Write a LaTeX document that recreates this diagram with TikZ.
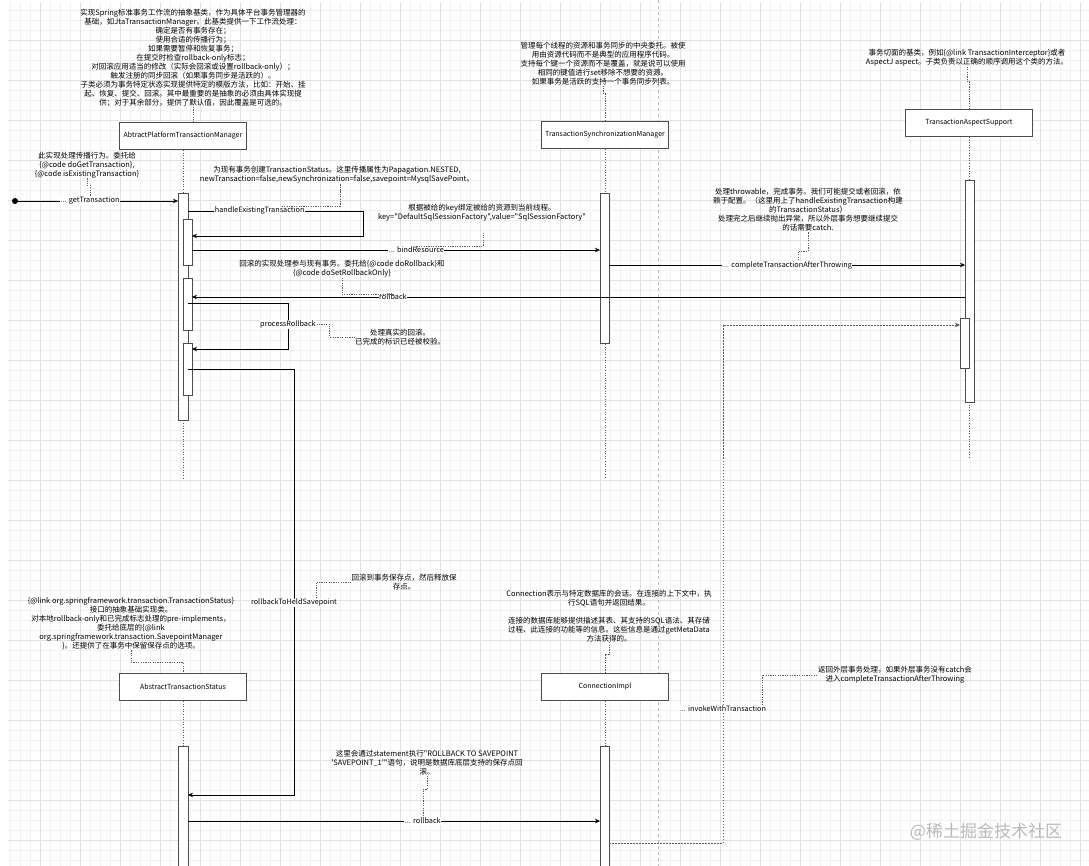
\documentclass[tikz,border=0pt]{standalone}
\usepackage{fontspec}
\setmainfont{Noto Sans CJK SC}[Ligatures=TeXOff]
\usetikzlibrary{arrows.meta,positioning}

\tikzset{
	head/.style={draw=gray!60!black, line width=1pt, fill=white, minimum width=127pt, minimum height=27pt, inner sep=0pt, font=\fontsize{7}{8}\selectfont},
	act/.style={draw=gray!60!black, line width=0.8pt, fill=white, minimum width=9pt, inner sep=0pt, outer sep=0pt, anchor=north west},
	life/.style={gray!70!black, dash pattern=on 1pt off 1.6pt, line width=0.6pt},
	msg/.style={line width=0.6pt, -{Stealth[length=5pt,width=4.5pt]}},
	ret/.style={gray!70!black, line width=0.6pt, dash pattern=on 1.5pt off 1.5pt, -{Stealth[length=5pt,width=4.5pt]}},
	lbl/.style={fill=white, text=black, inner sep=0.6pt, font=\fontsize{7.3}{8.5}\selectfont},
	note/.style={align=center, inner sep=0pt, font=\fontsize{7.5}{9}\selectfont},
	link/.style={gray!70!black, dash pattern=on 1.2pt off 1.2pt, line width=0.6pt},
}

\begin{document}
\begin{tikzpicture}[x=1pt,y=-1pt]
	\useasboundingbox (0,0) rectangle (1089,866);
	% background grid
	\draw[gray!11, line width=0.4pt, step=10pt] (8,2) grid (1089,866);
	\draw[gray!24, line width=0.4pt, step=40pt] (8,2) grid (1089,866);
	\draw[gray!55, dash pattern=on 3pt off 3pt, line width=0.5pt] (658,0) -- (658,866);

	% lifeline heads
	\node[head] (apm) at (183,136) {AbtractPlatformTransactionManager};
	\node[head] (tsm) at (605,135) {TransactionSynchronizationManager};
	\node[head] (tas) at (969,123) {TransactionAspectSupport};
	\node[head] (ats) at (183,687) {AbstractTransactionStatus};
	\node[head] (con) at (605,687) {ConnectionImpl};

	\draw[life] (apm.south) -- ++(0,330);
	\draw[life] (tsm.south) -- ++(0,330);
	\draw[life] (tas.south) -- ++(0,320);
	\draw[life] (ats.south) -- ++(0,170);
	\draw[life] (con.south) -- ++(0,170);

	% activations
	\node[act, minimum width=10pt, minimum height=227pt] (a1) at (178,193) {};
	\node[act, minimum height=46pt] (a1b) at (183,219) {};
	\node[act, minimum height=52pt] (a1c) at (183,278) {};
	\node[act, minimum height=52pt] (a1d) at (183,343) {};
	\node[act, minimum height=150pt] (t1) at (600,193) {};
	\node[act, minimum height=222pt] (s1) at (965,180) {};
	\node[act, minimum height=50pt] (s1b) at (960,318) {};
	\node[act, minimum width=10pt, minimum height=130pt] (b1) at (178,746) {};
	\node[act, minimum height=130pt] (c1) at (600,746) {};

	% notes
	\node[note] (n0) at (193,58) {实现Spring标准事务工作流的抽象基类，作为具体平台事务管理器的\\
		基础，如JtaTransactionManager。此基类提供一下工作流处理：\\
		确定是否有事务存在；\\
		使用合适的传播行为；\\
		如果需要暂停和恢复事务；\\
		在提交时检查rollback-only标志；\\
		对回滚应用适当的修改（实际会回滚或设置rollback-only）；\\
		触发注册的同步回滚（如果事务同步是活跃的）。\\
		子类必须为事务特定状态实现提供特定的模版方法，比如：开始、挂\\
		起、恢复、提交、回滚。其中最重要的是抽象的必须由具体实现提\\
		供；对于其余部分，提供了默认值，因此覆盖是可选的。};
	\node[note] (ntsm) at (603,64) {管理每个线程的资源和事务同步的中央委托。被使\\
		用由资源代码而不是典型的应用程序代码。\\
		支持每个键一个资源而不是覆盖，就是说可以使用\\
		相同的键值进行set移除不想要的资源。\\
		如果事务是活跃的支持一个事务同步列表。};
	\node[note] (ntas) at (967,58) {事务切面的基类，例如\{@link TransactionInterceptor\}或者\\
		AspectJ aspect。子类负责以正确的顺序调用这个类的方法。};
	\node[note] (n1) at (87,165) {此实现处理传播行为。委托给\\
		\{@code doGetTransaction\},\\
		\{@code isExistingTransaction\}};
	\node[note] (n2) at (337,175) {为现有事务创建TransactionStatus。这里传播属性为Papagation.NESTED,\\
		newTransaction=false,newSynchronization=false,savepoint=MysqlSavePoint。};
	\node[note] (n3) at (482,213) {根据被给的key绑定被给的资源到当前线程。\\
		key="DefaultSqlSessionFactory",value="SqlSessionFactory"};
	\node[note] (n4) at (808,210) {处理throwable，完成事务。我们可能提交或者回滚，依\\
		赖于配置。（这里用上了handleExistingTransaction构建\\
		的TransactionStatus）\\
		处理完之后继续抛出异常，所以外层事务想要继续提交\\
		的话需要catch.};
	\node[note] (n5) at (342,269) {回滚的实现处理参与现有事务。委托给\{@code doRollback\}和\\
		\{@code doSetRollbackOnly\}};
	\node[note] (n6) at (400,337) {处理真实的回滚。\\
		已完成的标识已经被校验。};
	\node[note] (n7) at (404,582) {回滚到事务保存点，然后释放保\\
		存点。};
	\node[note] (nats) at (131,624) {\{@link org.springframework.transaction.TransactionStatus\}\\
		接口的抽象基础实现类。\\
		对本地rollback-only和已完成标志处理的pre-implements，\\
		委托给底层的\{@link\\
		org.springframework.transaction.SavepointManager\\
		\}。还提供了在事务中保留保存点的选项。};
	\node[note] (ncon) at (609,616) {Connection表示与特定数据库的会话。在连接的上下文中，执\\
		行SQL语句并返回结果。\\[9pt]
		连接的数据库能够提供描述其表、其支持的SQL语法、其存储\\
		过程、此连接的功能等的信息。这些信息是通过getMetaData\\
		方法获得的。};
	\node[note] (n8) at (427,763) {这里会通过statement执行"ROLLBACK TO SAVEPOINT\\
		'SAVEPOINT\_1'"语句，说明是数据库底层支持的保存点回\\
		滚。};
	\node[note] (n9) at (895,675) {返回外层事务处理，如果外层事务没有catch会\\
		进入completeTransactionAfterThrowing};

	% messages
	\node[circle, fill=black, inner sep=0pt, minimum size=6pt] (start) at (15,201) {};
	\draw[msg] (start) -- node[lbl, pos=0.45] (l1) {... getTransaction} (start -| a1.west);

	\coordinate (h2) at (363,211);
	\coordinate (h2b) at (0,236);
	\draw[msg] (h2 -| a1.east) -- node[lbl, pos=0.41] (l2) {handleExistingTransaction} (h2) |- (h2b -| a1b.east);

	\coordinate (m3) at (0,250);
	\draw[msg] (m3 -| a1b.east) -- node[lbl, pos=0.55] (l3) {... bindResource} (m3 -| t1.west);

	\coordinate (m4) at (0,265);
	\draw[msg] (m4 -| t1.east) -- node[lbl, pos=0.5] (l4) {...\ \ completeTransactionAfterThrowing} (m4 -| s1.west);

	\coordinate (m5) at (0,297);
	\draw[msg] (m5 -| s1.west) -- node[lbl, pos=0.74] (l5) {rollback} (m5 -| a1c.east);

	\coordinate (p6) at (288,303);
	\coordinate (p6b) at (0,349);
	\draw[msg] (p6 -| a1.east) -- (p6) -- node[lbl, pos=0.46] (l6) {processRollback} (p6 |- p6b) -- (p6b -| a1d.east);

	\coordinate (p7) at (294,369);
	\coordinate (p7b) at (0,795);
	\draw[msg] (p7 -| a1.east) -- (p7) -- node[lbl, pos=0.549] (l7) {rollbackToHeldSavepoint} (p7 |- p7b) -- (p7b -| b1.east);

	\coordinate (m8) at (0,821);
	\draw[msg] (m8 -| b1.east) -- node[lbl, pos=0.57] (l8) {... rollback} (m8 -| c1.west);

	\coordinate (p9) at (723,843);
	\coordinate (p9b) at (0,325);
	\draw[ret] (p9 -| c1.east) -- (p9) -- node[lbl, pos=0.259] (l9) {... invokeWithTransaction} (p9 |- p9b) -- (p9b -| s1b.west);

	% note links
	\draw[link] (n0.south) -- (n0.south |- apm.north);
	\draw[link] (ntsm.south) -- ++(0,8) -| (tsm.north);
	\draw[link] (ntas.south) -- ++(0,15) -| (tas.north);
	\draw[link] (n1.south) -- ++(0,7) -| (l1.north);
	\draw[link] ([xshift=22pt]l2.north) -| (n2.south -| 340,0) -- (340,194);
	\draw[link] (l3.north) -| (483,233);
	\draw[link] ([xshift=11pt]l4.north) -- ++(0,-9) -| (n4.south);
	\draw[link] (n5.south) -- ++(0,17) -| (l5.north);
	\draw[link] (l6.east) -- ++(13,0) |- (n6.west);
	\draw[link] ([xshift=22pt]l7.north) |- (n7.west);
	\draw[link] (nats.south) -- ++(0,12) -| (ats.north);
	\draw[link] (ncon.south) -- ++(0,12) -| (con.north);
	\draw[link] (n8.south) -- ++(0,14) -| (l8.north);
	\draw[link] ([xshift=-5pt]l9.north east) |- (n9.west);

	\node[text=gray!55, font=\fontsize{17}{17}\selectfont] (wm) at (986,832) {@稀土掘金技术社区};
\end{tikzpicture}
\end{document}
